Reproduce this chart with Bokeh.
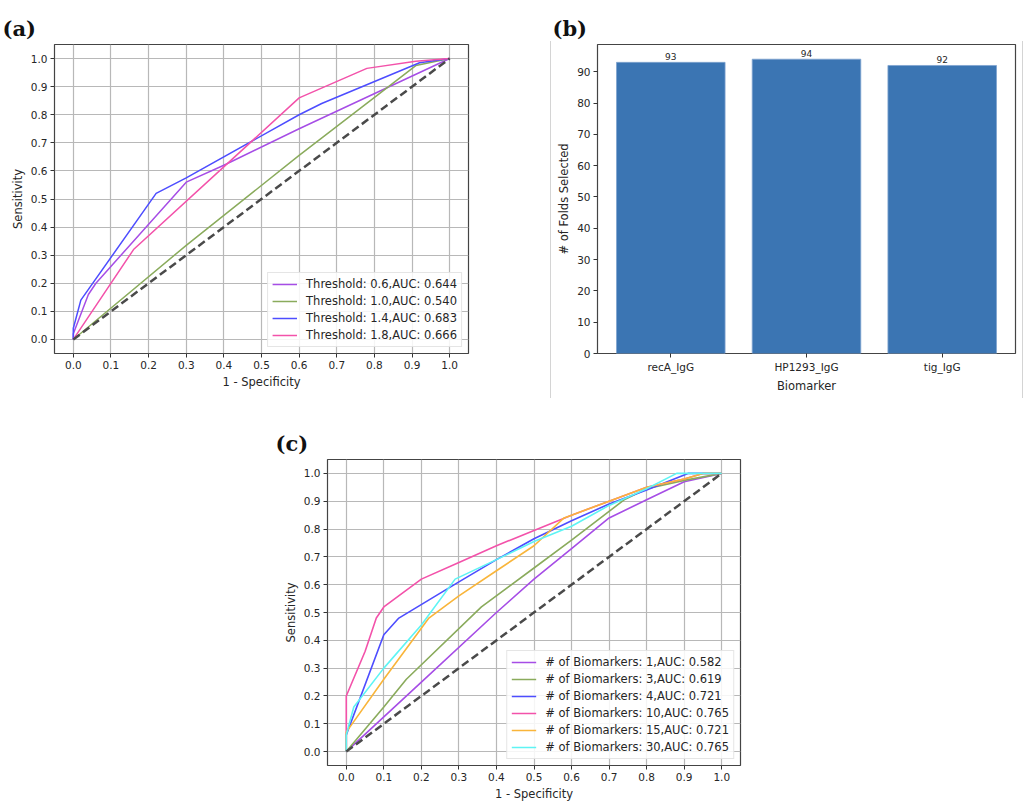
from bokeh.plotting import figure
from bokeh.models import Range1d, FixedTicker, Legend, LegendItem, ColumnDataSource, LabelSet, Div
from bokeh.layouts import row, column, Spacer
from bokeh.embed import file_html
from bokeh.resources import INLINE
from bokeh.core.properties import value

# ---------------- data ----------------
roc_ticks = [0.0, 0.1, 0.2, 0.3, 0.4, 0.5, 0.6, 0.7, 0.8, 0.9, 1.0]
roc_tick_labels = ["0.0", "0.1", "0.2", "0.3", "0.4", "0.5", "0.6", "0.7", "0.8", "0.9", "1.0"]
diag_x = [0.0, 1.0]
diag_y = [0.0, 1.0]

# panel (a)
a_labels = ["Threshold: 0.6,AUC: 0.644", "Threshold: 1.0,AUC: 0.540",
            "Threshold: 1.4,AUC: 0.683", "Threshold: 1.8,AUC: 0.666"]
a_fpr_06 = [0.0, 0.0, 0.04, 0.06, 0.30, 0.40, 0.60, 1.0]
a_tpr_06 = [0.0, 0.02, 0.16, 0.20, 0.56, 0.62, 0.75, 1.0]
a_fpr_10 = [0.0, 0.30, 0.60, 0.91, 1.0]
a_tpr_10 = [0.0, 0.335, 0.655, 0.975, 1.0]
a_fpr_14 = [0.0, 0.0, 0.02, 0.22, 0.30, 0.60, 0.66, 0.92, 1.0]
a_tpr_14 = [0.0, 0.04, 0.14, 0.52, 0.575, 0.80, 0.84, 0.985, 1.0]
a_fpr_18 = [0.0, 0.16, 0.60, 0.78, 0.91, 1.0]
a_tpr_18 = [0.0, 0.32, 0.86, 0.965, 0.99, 1.0]

# panel (b)
biomarkers = ["recA_IgG", "HP1293_IgG", "tig_IgG"]
folds_selected = [93, 94, 92]
bar_ticks = [0, 10, 20, 30, 40, 50, 60, 70, 80, 90]

# panel (c)
c_labels = ["# of Biomarkers: 1,AUC: 0.582", "# of Biomarkers: 3,AUC: 0.619",
            "# of Biomarkers: 4,AUC: 0.721", "# of Biomarkers: 10,AUC: 0.765",
            "# of Biomarkers: 15,AUC: 0.721", "# of Biomarkers: 30,AUC: 0.765"]
c_fpr_1 = [0.0, 0.2, 0.4, 0.5, 0.6, 0.7, 0.8, 0.9, 1.0]
c_tpr_1 = [0.0, 0.25, 0.5, 0.62, 0.73, 0.84, 0.905, 0.97, 1.0]
c_fpr_3 = [0.0, 0.1, 0.16, 0.36, 0.5, 0.6, 0.74, 0.8, 0.9, 1.0]
c_tpr_3 = [0.0, 0.16, 0.26, 0.52, 0.66, 0.76, 0.905, 0.945, 0.975, 1.0]
c_fpr_4 = [0.0, 0.0, 0.1, 0.14, 0.3, 0.4, 0.5, 0.6, 0.7, 0.8, 0.91, 1.0]
c_tpr_4 = [0.0, 0.06, 0.42, 0.48, 0.61, 0.69, 0.765, 0.83, 0.89, 0.94, 1.0, 1.0]
c_fpr_10 = [0.0, 0.0, 0.05, 0.08, 0.1, 0.2, 0.3, 0.4, 0.5, 0.6, 0.7, 0.8, 0.9, 0.95, 1.0]
c_tpr_10 = [0.0, 0.2, 0.36, 0.48, 0.52, 0.62, 0.68, 0.74, 0.795, 0.85, 0.9, 0.95, 0.98, 1.0, 1.0]
c_fpr_15 = [0.0, 0.0, 0.1, 0.22, 0.3, 0.4, 0.5, 0.58, 0.7, 0.8, 0.9, 0.95, 1.0]
c_tpr_15 = [0.0, 0.07, 0.26, 0.48, 0.56, 0.65, 0.74, 0.84, 0.9, 0.95, 0.98, 1.0, 1.0]
c_fpr_30 = [0.0, 0.0, 0.02, 0.1, 0.2, 0.29, 0.4, 0.5, 0.6, 0.7, 0.8, 0.88, 1.0]
c_tpr_30 = [0.0, 0.06, 0.16, 0.30, 0.455, 0.62, 0.69, 0.755, 0.81, 0.885, 0.945, 1.0, 1.0]

# ---------------- styles ----------------
C_PURPLE = "#a64de6"
C_GREEN = "#8aab5c"
C_BLUE = "#4d4dff"
C_PINK = "#f352aa"
C_ORANGE = "#f9b53a"
C_CYAN = "#5ef4f4"
TXT = "#262626"
FONT = "DejaVu Sans"


def style_axes(p):
    p.outline_line_color = "#444444"
    p.outline_line_width = 1.2
    p.background_fill_color = "white"
    p.border_fill_color = "white"
    for ax in p.axis:
        ax.axis_line_color = None
        ax.major_tick_line_color = "#333333"
        ax.major_tick_out = 4
        ax.major_tick_in = 0
        ax.minor_tick_line_color = None
        ax.major_label_text_font = FONT
        ax.major_label_text_font_size = "10.5px"
        ax.major_label_text_color = TXT
        ax.major_label_standoff = 3
        ax.axis_label_text_font = FONT
        ax.axis_label_text_font_size = "11.5px"
        ax.axis_label_text_font_style = "normal"
        ax.axis_label_text_color = TXT
        ax.axis_label_standoff = 3


def style_title(p, text, offset, standoff):
    p.title.text = text
    p.title.text_font = "DejaVu Serif"
    p.title.text_font_size = "21px"
    p.title.text_font_style = "bold"
    p.title.text_color = "#111111"
    p.title.align = "left"
    p.title.vertical_align = "middle"
    p.title.offset = offset
    p.title.standoff = standoff


def roc_figure(width, height, mbl, mbr, mbt, mbb):
    p = figure(width=width, height=height, output_backend="svg", toolbar_location=None,
               x_range=Range1d(-0.05, 1.05), y_range=Range1d(-0.05, 1.05),
               min_border_left=mbl, min_border_right=mbr, min_border_top=mbt, min_border_bottom=mbb)
    style_axes(p)
    for ax in (p.xaxis[0], p.yaxis[0]):
        ax.ticker = FixedTicker(ticks=roc_ticks)
        ax.major_label_overrides = {t: l for t, l in zip(roc_ticks, roc_tick_labels)}
    p.xaxis.axis_label = "1 - Specificity"
    p.yaxis.axis_label = "Sensitivity"
    p.grid.grid_line_color = "#b8b8b8"
    p.grid.grid_line_width = 1.2
    return p


def style_legend(leg):
    leg.location = "bottom_right"
    leg.margin = 6
    leg.padding = 4
    leg.spacing = 3
    leg.label_height = 14
    leg.glyph_height = 14
    leg.glyph_width = 25
    leg.label_standoff = 9
    leg.label_text_font = FONT
    leg.label_text_font_size = "11.5px"
    leg.label_text_color = TXT
    leg.border_line_color = "#cccccc"
    leg.border_line_width = 1
    leg.background_fill_color = "white"
    leg.background_fill_alpha = 0.85


def vline(height_top, height):
    return column(Spacer(width=1, height=height_top),
                  Div(text="", width=1, height=height, margin=0,
                      styles={"background-color": "#d4d4d4"}))


# ---------------- panel (a) ----------------
pa = roc_figure(550, 400, 54, 82, 44, 47)
style_title(pa, "(a)", -52, 5)
ra = []
for xs, ys, col in [(a_fpr_06, a_tpr_06, C_PURPLE), (a_fpr_10, a_tpr_10, C_GREEN),
                    (a_fpr_14, a_tpr_14, C_BLUE), (a_fpr_18, a_tpr_18, C_PINK)]:
    ra.append(pa.line(xs, ys, line_color=col, line_width=1.5))
pa.line(diag_x, diag_y, line_color="#4a4a4a", line_width=2.5, line_dash="8 4")
leg_a = Legend(items=[LegendItem(label=l, renderers=[r]) for l, r in zip(a_labels, ra)])
style_legend(leg_a)
pa.add_layout(leg_a)

# ---------------- panel (b) ----------------
idx = list(range(len(biomarkers)))
pb = figure(width=471, height=400, output_backend="svg", toolbar_location=None,
            x_range=Range1d(-0.54, len(biomarkers) - 1 + 0.54),
            y_range=Range1d(0, max(folds_selected) * 1.05),
            min_border_left=46, min_border_right=7, min_border_top=43, min_border_bottom=46)
style_axes(pb)
style_title(pb, "(b)", -45, 5)
pb.grid.grid_line_color = None
src_b = ColumnDataSource(dict(x=idx, top=folds_selected, txt=[str(v) for v in folds_selected]))
pb.vbar(x="x", top="top", width=0.8, bottom=0, source=src_b,
        fill_color="#3b75b3", line_color="#7fa3cf", line_width=0.8)
pb.add_layout(LabelSet(x="x", y="top", text="txt", source=src_b, text_align="center",
                       text_baseline="bottom", y_offset=2, text_font=value(FONT),
                       text_font_size="9px", text_color=TXT))
pb.xaxis.ticker = FixedTicker(ticks=idx)
pb.xaxis.major_label_overrides = {i: b for i, b in zip(idx, biomarkers)}
pb.yaxis.ticker = FixedTicker(ticks=bar_ticks)
pb.xaxis.axis_label = "Biomarker"
pb.yaxis.axis_label = "# of Folds Selected"

# ---------------- panel (c) ----------------
pc = roc_figure(480, 403, 57, 10, 59, 35)
style_title(pc, "(c)", -52, 5)
rc = []
for xs, ys, col in [(c_fpr_1, c_tpr_1, C_PURPLE), (c_fpr_3, c_tpr_3, C_GREEN),
                    (c_fpr_4, c_tpr_4, C_BLUE), (c_fpr_10, c_tpr_10, C_PINK),
                    (c_fpr_15, c_tpr_15, C_ORANGE), (c_fpr_30, c_tpr_30, C_CYAN)]:
    rc.append(pc.line(xs, ys, line_color=col, line_width=1.6))
pc.line(diag_x, diag_y, line_color="#4a4a4a", line_width=2.5, line_dash="8 4")
leg_c = Legend(items=[LegendItem(label=l, renderers=[r]) for l, r in zip(c_labels, rc)])
style_legend(leg_c)
pc.add_layout(leg_c)

layout = column(row(pa, vline(41, 357), pb, vline(41, 357)),
                row(Spacer(width=270, height=403), pc))

open("out.html", "w").write(file_html(layout, INLINE))
